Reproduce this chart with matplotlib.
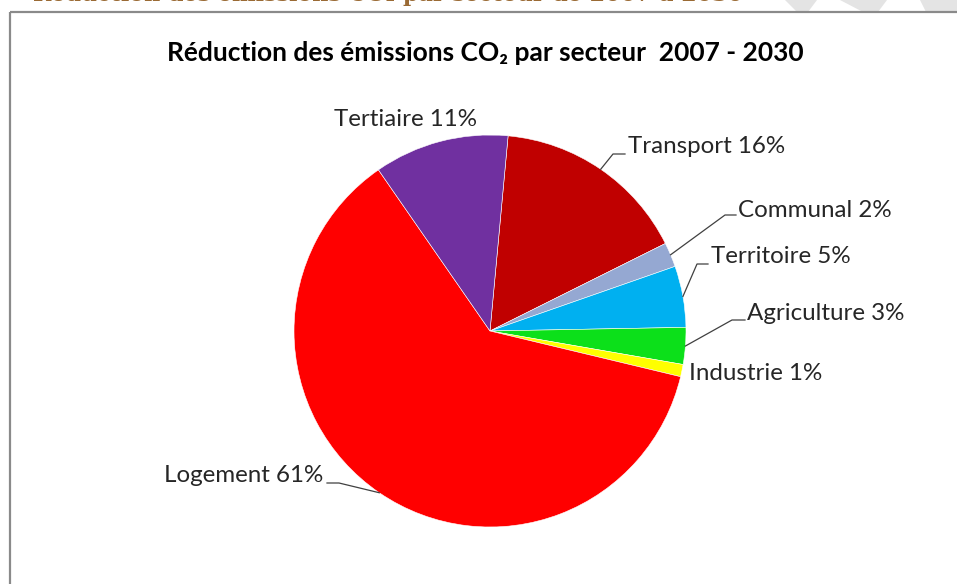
import numpy as np
import matplotlib
matplotlib.use("Agg")
import matplotlib.pyplot as plt
from matplotlib.patches import Rectangle, Polygon

plt.rcParams['font.family'] = ['Lato', 'DejaVu Sans']

# sector shares (%), listed clockwise from the top of the pie
sectors = ["Transport", "Communal", "Territoire", "Agriculture",
           "Industrie", "Logement", "Tertiaire"]
shares = [16, 2, 5, 3, 1, 61, 11]
colors = ["#C00000", "#95A8D2", "#00B0F0", "#0CE01A",
          "#FFFF00", "#FF0000", "#7030A0"]

W, H = 957, 584
fig = plt.figure(figsize=(W / 100, H / 100), dpi=100)
ax = fig.add_axes([0, 0, 1, 1])


def P(x, y):
    # pixel position (y from top) -> axes data
    return x, H - y


# pie
cx, cy = P(490, 331)
R = 196
wedges, _ = ax.pie(shares, colors=colors, startangle=84.7, counterclock=False,
                   center=(cx, cy), radius=R,
                   wedgeprops=dict(edgecolor='white', linewidth=0.4))
ax.set_aspect('auto')
ax.set_xlim(0, W)
ax.set_ylim(0, H)
ax.axis('off')

# chart frame
ax.add_patch(Rectangle(P(10, 12), W, -H, fill=False, edgecolor='#8A8A8A',
                       linewidth=1.6, clip_on=False, zorder=5))

# faint watermark strokes above the frame
for pts in [[(785, 0), (817, 0), (808, 12), (797, 12)],
            [(840, 0), (887, 0), (878, 12), (863, 12)],
            [(920, 0), (957, 0), (957, 12), (926, 12)]]:
    ax.add_patch(Polygon([P(*p) for p in pts], closed=True,
                         facecolor='#E4E4E4', edgecolor='none', zorder=1))

# document heading, mostly cropped at the top edge
ax.text(*P(33, 1.0), "Réduction des émissions CO₂ par secteur de 2007 à 2030",
        family=['DejaVu Serif'], weight='bold', fontsize=16, color='#9A6A34',
        ha='left', va='baseline', zorder=2)

# chart title
ax.text(*P(485, 61), "Réduction des émissions CO₂ par secteur  2007 - 2030",
        weight='bold', fontsize=19, color='black', ha='center', va='baseline')

# label text placement (left/center x, baseline y) and leader elbows
labels = {
    "Tertiaire":   dict(xy=(405, 126), ha='center'),
    "Transport":   dict(xy=(628, 153), ha='left', elbow=(613, 154), end=(625, 154)),
    "Communal":    dict(xy=(738, 217), ha='left', elbow=(725, 215), end=(736, 215)),
    "Territoire":  dict(xy=(711, 263), ha='left', elbow=(697, 264), end=(708, 264)),
    "Agriculture": dict(xy=(747, 320), ha='left', elbow=(732, 320), end=(745, 320)),
    "Industrie":   dict(xy=(689, 380), ha='left'),
    "Logement":    dict(xy=(323, 482), ha='right', elbow=(339, 483), end=(327, 483)),
}

for w, name, val in zip(wedges, sectors, shares):
    spec = labels[name]
    ax.text(*P(*spec['xy']), f"{name} {val}%", fontsize=17.4, color='#262626',
            ha=spec['ha'], va='baseline')
    if 'elbow' in spec:
        mid = np.deg2rad((w.theta1 + w.theta2) / 2)
        x0, y0 = cx + R * np.cos(mid), cy + R * np.sin(mid)
        ex, ey = P(*spec['elbow'])
        tx, ty = P(*spec['end'])
        ax.plot([x0, ex, tx], [y0, ey, ty], color='#404040', linewidth=0.9)

fig.savefig("out.png", dpi=100)
